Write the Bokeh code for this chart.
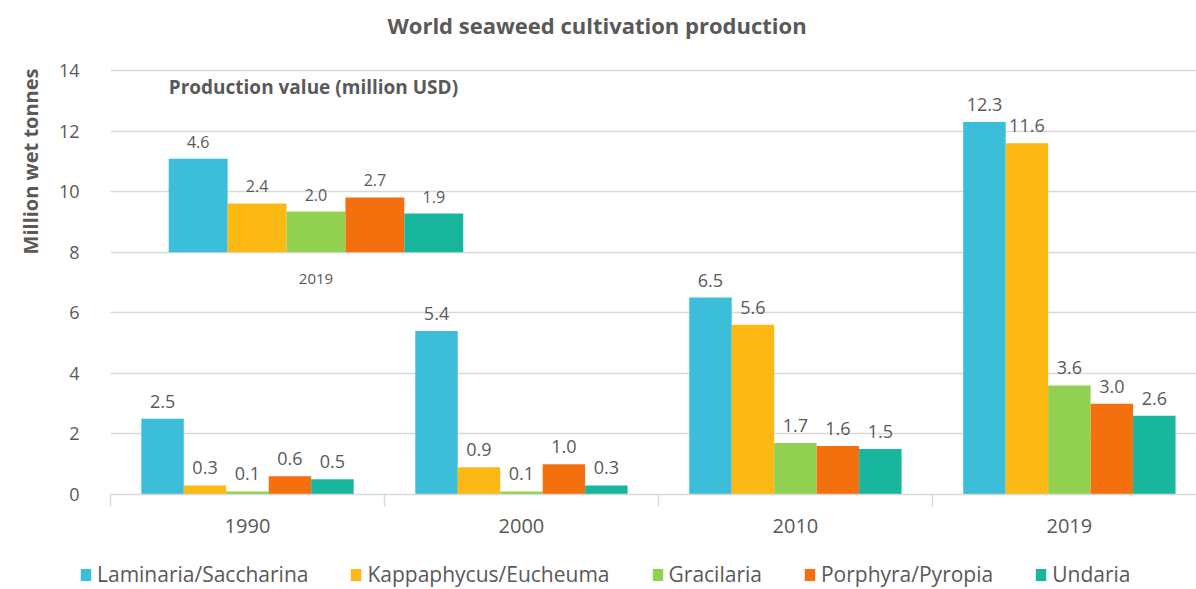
from bokeh.plotting import figure
from bokeh.layouts import column
from bokeh.models import FixedTicker, Legend, LegendItem, ColumnDataSource, Title
from bokeh.core.properties import value
from bokeh.embed import file_html
from bokeh.resources import INLINE

# ---- data ----
years = ["1990", "2000", "2010", "2019"]
species = ["Laminaria/Saccharina", "Kappaphycus/Eucheuma", "Gracilaria",
           "Porphyra/Pyropia", "Undaria"]
laminaria = [2.5, 5.4, 6.5, 12.3]
kappaphycus = [0.3, 0.9, 5.6, 11.6]
gracilaria = [0.1, 0.1, 1.7, 3.6]
porphyra = [0.6, 1.0, 1.6, 3.0]
undaria = [0.5, 0.3, 1.5, 2.6]
value_2019 = [4.6, 2.4, 2.0, 2.7, 1.9]   # production value, million USD
inset_year = "2019"
inset_title = "Production value (million USD)"
y_ticks = [0, 2, 4, 6, 8, 10, 12, 14]

series = [laminaria, kappaphycus, gracilaria, porphyra, undaria]
colors = ["#3CBDD9", "#FDB913", "#92D050", "#F4700F", "#17B69D"]

FONT = "Open Sans"
TXT = "#595959"

# ---- layout constants ----
W = 1196
bar_w = 0.155
inset_w = 0.215
inset_center = 0.75
inset_base = 8.0
inset_scale = 0.67

p = figure(width=W, height=544, output_backend="svg", toolbar_location=None,
           x_range=(0, 3.964), y_range=(0, 14.79),
           min_border_left=110, min_border_right=0, min_border_top=46,
           min_border_bottom=50, outline_line_color=None)

p.title.text = "World seaweed cultivation production"
p.title.align = "left"
p.title.offset = 277
p.title.text_font = FONT
p.title.text_font_size = "22px"
p.title.text_font_style = "bold"
p.title.text_color = TXT
p.title.standoff = 14

for i, (vals, col) in enumerate(zip(series, colors)):
    xs = [k + 0.5 + (i - 2) * bar_w for k in range(len(years))]
    src = ColumnDataSource(dict(x=xs, top=vals, lab=[f"{v:.1f}" for v in vals]))
    p.vbar(x="x", top="top", width=bar_w, bottom=0, source=src,
           fill_color=col, line_color=None)
    p.text(x="x", y="top", text="lab", source=src, text_align="center",
           text_baseline="bottom", y_offset=-11, text_font=value(FONT),
           text_font_size="18px", text_color=TXT)

# inset: production value 2019
ix = [inset_center + (i - 2) * inset_w for i in range(len(species))]
itop = [inset_base + v * inset_scale for v in value_2019]
isrc = ColumnDataSource(dict(x=ix, top=itop, col=colors,
                             lab=[f"{v:.1f}" for v in value_2019]))
p.vbar(x="x", top="top", bottom=inset_base, width=inset_w, source=isrc,
       fill_color="col", line_color=None)
p.text(x="x", y="top", text="lab", source=isrc, text_align="center",
       text_baseline="bottom", y_offset=-11, text_font=value(FONT),
       text_font_size="16px", text_color=TXT)
p.text(x=[inset_center], y=[inset_base], text=[inset_year], text_align="center",
       text_baseline="middle", y_offset=27, text_font=value(FONT),
       text_font_size="15px", text_color=TXT)
p.text(x=[ix[0] - inset_w / 2], y=[14], text=[inset_title], text_align="left",
       text_baseline="middle", y_offset=17, text_font=value(FONT),
       text_font_size="19px", text_font_style="bold", text_color=TXT)

# axes
p.xaxis.ticker = FixedTicker(ticks=[k + 0.5 for k in range(len(years))],
                             minor_ticks=list(range(len(years) + 1)))
p.xaxis.major_label_overrides = {k + 0.5: y for k, y in enumerate(years)}
p.xaxis.major_tick_line_color = None
p.xaxis.major_tick_out = 0
p.xaxis.major_tick_in = 0
p.xaxis.minor_tick_out = 12
p.xaxis.minor_tick_in = 0
p.xaxis.minor_tick_line_color = "#D9D9D9"
p.xaxis.minor_tick_line_width = 1.5
p.xaxis.axis_line_color = "#D9D9D9"
p.xaxis.axis_line_width = 1.5
p.xaxis.major_label_standoff = 12
p.xaxis.major_label_text_font = FONT
p.xaxis.major_label_text_font_size = "20px"
p.xaxis.major_label_text_color = TXT

p.yaxis.ticker = FixedTicker(ticks=y_ticks)
p.yaxis.axis_line_color = None
p.yaxis.major_tick_line_color = None
p.yaxis.minor_tick_line_color = None
p.yaxis.major_label_standoff = 25
p.yaxis.major_label_text_font = FONT
p.yaxis.major_label_text_font_size = "18px"
p.yaxis.major_label_text_color = TXT

ytitle = Title(text="Million wet tonnes", align="right", offset=22,
               text_font=FONT, text_font_size="20px", text_font_style="bold",
               text_color=TXT, standoff=24)
p.add_layout(ytitle, "left")

p.xgrid.grid_line_color = None
p.ygrid.grid_line_color = "#D9D9D9"
p.ygrid.grid_line_width = 1.5

# ---- legend strip ----
lf = figure(width=W, height=45, output_backend="svg", toolbar_location=None,
            x_range=(0, 1), y_range=(0, 1), min_border=0,
            x_axis_type=None, y_axis_type=None, outline_line_color=None)
lf.grid.visible = False
legend_x = 0
try:
    lf.frame_align = False
    legend_x = 79
except Exception:
    legend_x = 0
items = []
for name, col in zip(species, colors):
    # proxy glyph below the visible range, only used for the legend swatch
    r = lf.vbar(x=[0.5], top=[-2], bottom=[-3], width=0.01,
                fill_color=col, line_color=None)
    items.append(LegendItem(label=name, renderers=[r]))
legend = Legend(items=items, orientation="horizontal", location=(legend_x, 1),
                label_text_font=FONT, label_text_font_size="21px",
                label_text_color=TXT, glyph_width=13, glyph_height=15,
                spacing=41, label_standoff=5, padding=0, margin=0,
                border_line_color=None, background_fill_alpha=0)
lf.add_layout(legend, "center")

layout = column(p, lf, spacing=0)
open("out.html", "w").write(file_html(layout, INLINE))
